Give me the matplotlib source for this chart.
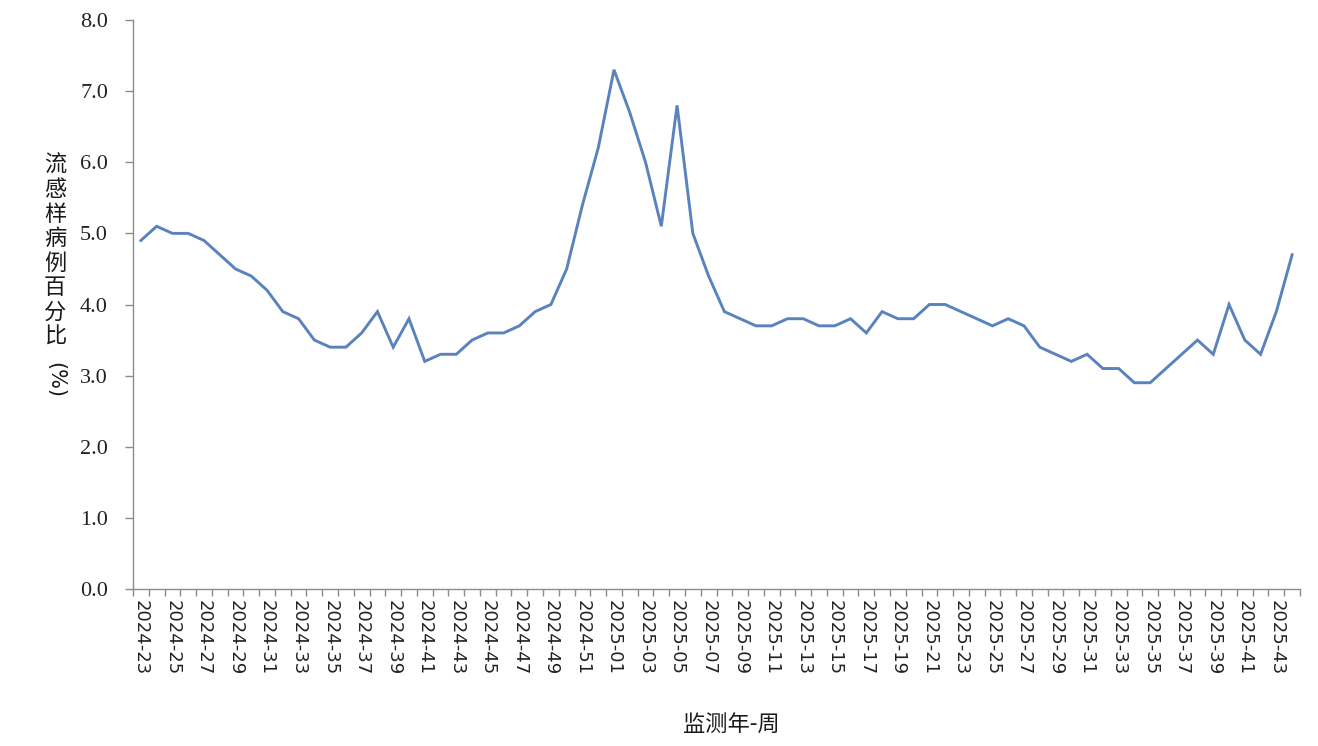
import numpy as np
import matplotlib
matplotlib.use("Agg")
import matplotlib.pyplot as plt

# weekly ILI percentage, 2024-23 .. 2025-44
weeks_2024 = list(range(23, 53))
weeks_2025 = list(range(1, 45))
week_labels = [f"2024-{w:02d}" for w in weeks_2024] + [f"2025-{w:02d}" for w in weeks_2025]

ili_pct = [
    4.9, 5.1, 5.0, 5.0, 4.9, 4.7, 4.5, 4.4, 4.2, 3.9,
    3.8, 3.5, 3.4, 3.4, 3.6, 3.9, 3.4, 3.8, 3.2, 3.3,
    3.3, 3.5, 3.6, 3.6, 3.7, 3.9, 4.0, 4.5, 5.4, 6.2,
    7.3, 6.7, 6.0, 5.1, 6.8, 5.0, 4.4, 3.9, 3.8, 3.7,
    3.7, 3.8, 3.8, 3.7, 3.7, 3.8, 3.6, 3.9, 3.8, 3.8,
    4.0, 4.0, 3.9, 3.8, 3.7, 3.8, 3.7, 3.4, 3.3, 3.2,
    3.3, 3.1, 3.1, 2.9, 2.9, 3.1, 3.3, 3.5, 3.3, 4.0,
    3.5, 3.3, 3.9, 4.7,
]

y_ticks = [0, 1, 2, 3, 4, 5, 6, 7, 8]

W, H = 1318, 746
fig = plt.figure(figsize=(W / 100, H / 100), dpi=100)
ax = fig.add_axes([133 / W, 1 - 589 / H, (1300 - 133) / W, (589 - 20) / H])

x = np.arange(len(ili_pct))
ax.plot(x, ili_pct, color="#5a83bd", lw=2.1, solid_joinstyle="miter")

ax.set_xlim(-0.5, len(ili_pct) - 0.5)
ax.set_ylim(0, 8)

axis_grey = "#8c8c8c"
for side in ("top", "right"):
    ax.spines[side].set_visible(False)
for side in ("left", "bottom"):
    ax.spines[side].set_color(axis_grey)
    ax.spines[side].set_linewidth(1.0)

# y axis
ax.set_yticks(y_ticks, [f"{v:.1f}" for v in y_ticks])
ax.tick_params(axis="y", direction="out", length=6, width=1.0, color=axis_grey,
               pad=12, labelsize=16, labelcolor="#222222")
for lab in ax.get_yticklabels():
    lab.set_fontfamily("Liberation Serif")

# x axis: tick marks at category boundaries, labels on every other week
ax.set_xticks(x[::2], week_labels[::2])
ax.set_xticks(np.arange(-0.5, len(ili_pct), 1), minor=True)
ax.tick_params(axis="x", which="major", length=0, pad=8, labelsize=13,
               labelcolor="#222222", labelrotation=270)
ax.tick_params(axis="x", which="minor", direction="out", length=5, width=1.0,
               color=axis_grey)
for lab in ax.get_xticklabels():
    lab.set_fontfamily("DejaVu Sans")
    lab.set_va("top")
    lab.set_ha("center")

cjk = ["Noto Sans CJK SC", "DejaVu Sans"]
fig.text(55 / W, 1 - 154 / H, "\n".join("流感样病例百分比"), ha="center", va="top",
         fontsize=16, family=cjk, linespacing=1.08, color="#1a1a1a")
fig.text(55 / W, 1 - 362 / H, "(%)", ha="center", va="top", rotation=270,
         fontsize=15, family="DejaVu Sans", color="#1a1a1a")
fig.text(731 / W, 1 - 724 / H, "监测年-周", ha="center", va="center",
         fontsize=16, family=cjk, color="#1a1a1a")

fig.savefig("out.png", dpi=100)
